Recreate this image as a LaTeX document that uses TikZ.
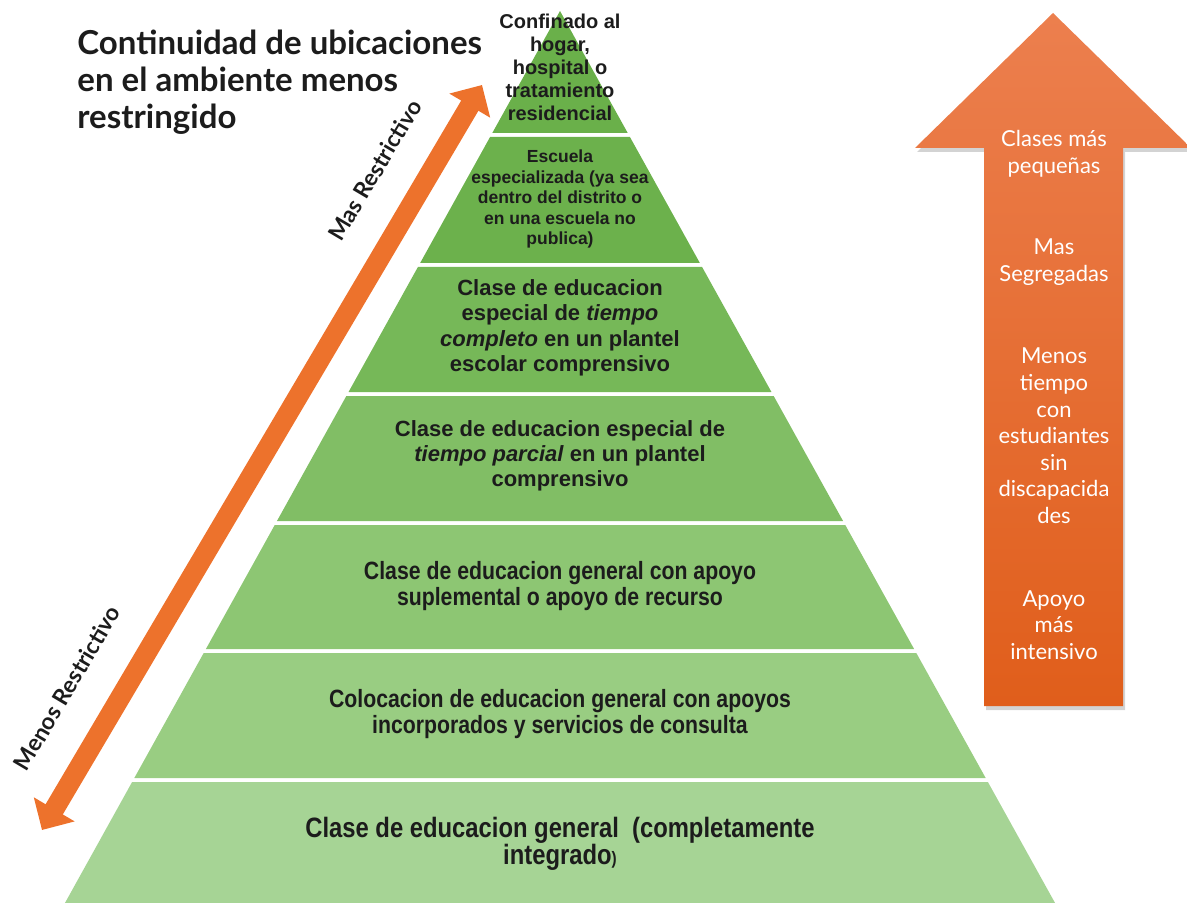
\documentclass[tikz,border=0pt]{standalone}
\usepackage{fontspec}
\setmainfont{Liberation Sans}
\newfontfamily\gillfont{Lato}
\newfontfamily\narrowfont[FakeStretch=0.85]{Liberation Sans}
\usetikzlibrary{arrows.meta,
                shadows,
                positioning}
\definecolor{tierA}{RGB}{106,176,74}
\definecolor{tierB}{RGB}{108,177,76}
\definecolor{tierC}{RGB}{118,184,88}
\definecolor{tierD}{RGB}{129,190,101}
\definecolor{tierE}{RGB}{141,198,115}
\definecolor{tierF}{RGB}{153,205,130}
\definecolor{tierG}{RGB}{166,212,149}
\definecolor{inkgray}{RGB}{28,28,28}
\definecolor{arroworange}{RGB}{237,114,44}
\definecolor{sidetop}{RGB}{236,127,78}
\definecolor{sidebottom}{RGB}{224,94,27}
\tikzset{tier-text/.style =
   {align=center,
    text=inkgray,
    inner sep=0pt}}
\tikzset{side-text/.style =
   {align=center,
    text=white,
    inner sep=0pt,
    font=\gillfont\fontsize{11}{13.3}\selectfont}}
\tikzset{restrict-label/.style =
   {rotate=59.4,
    text=inkgray,
    font=\gillfont\bfseries\fontsize{11.5}{13}\selectfont}}
\tikzset{arrow/.style =
   {draw=arroworange,
    line width=10pt,
    {Triangle[length=12pt,width=23pt]}-{Triangle[length=12pt,width=23pt]}}}

\begin{document}
\begin{tikzpicture}[x=0.5pt, y=-0.5pt]

    \useasboundingbox (0,0) rectangle (1187,903);

    % pyramid
    \fill [tierA] (560,11) -- ({560+0.555*122},133) -- ({560-0.555*122},133) -- cycle;
    \foreach \top/\bot/\col in {137/263/tierB,
                                267/392/tierC,
                                396/521/tierD,
                                525/649/tierE,
                                653/778/tierF,
                                782/903/tierG}
        \fill [\col] ({560-0.555*(\top-11)},\top) -- ({560+0.555*(\top-11)},\top)
                  -- ({560+0.555*(\bot-11)},\bot) -- ({560-0.555*(\bot-11)},\bot) -- cycle;

    \node [tier-text, font=\bfseries\fontsize{10}{11.5}\selectfont]
        (tier0) at (560,67) {Confinado al\\hogar,\\hospital o\\tratamiento\\residencial};
    \node [tier-text, font=\bfseries\fontsize{8.75}{10.25}\selectfont]
        (tier1) at (560,199) {Escuela\\especializada (ya sea\\dentro del distrito o\\en una escuela no\\publica)};
    \node [tier-text, font=\bfseries\fontsize{11}{12.75}\selectfont]
        (tier2) at (560,328) {Clase de educacion\\especial de \textit{tiempo}\\\textit{completo} en un plantel\\escolar comprensivo};
    \node [tier-text, font=\bfseries\fontsize{11}{12.5}\selectfont]
        (tier3) at (560,456) {Clase de educacion especial de\\\textit{tiempo parcial} en un plantel\\comprensivo};
    \node [tier-text, font=\narrowfont\bfseries\fontsize{12.5}{12.75}\selectfont]
        (tier4) at (560,586) {Clase de educacion general con apoyo\\suplemental o apoyo de recurso};
    \node [tier-text, font=\narrowfont\bfseries\fontsize{12.5}{12.75}\selectfont]
        (tier5) at (560,714) {Colocacion de educacion general con apoyos\\incorporados y servicios de consulta};
    \node [tier-text, font=\narrowfont\bfseries\fontsize{14}{13.5}\selectfont]
        (tier6) at (560,844) {Clase de educacion general\ \ (completamente\\integrado{\fontsize{9}{9}\selectfont)}};

    % title
    \node [anchor=north west, align=left, inner sep=0pt, text=inkgray,
           font=\gillfont\bfseries\fontsize{16.5}{18.3}\selectfont]
        (title) at (77,30) {Continuidad de ubicaciones\\en el ambiente menos\\restringido};

    % double arrow along the pyramid
    \coordinate (lowtip) at (42,830);
    \coordinate (hightip) at (482,85);
    \draw [arrow] (lowtip) -- (hightip);
    \node [restrict-label] (mas) at (375,170) {Mas Restrictivo};
    \node [restrict-label] (menos) at (67,688) {Menos Restrictivo};

    % block arrow on the right
    \path [top color=sidetop, bottom color=sidebottom,
           drop shadow={shadow xshift=1pt, shadow yshift=-2pt, opacity=0.35}]
        (1053,13) -- (1191,148) -- (1123,148) -- (1123,706)
        -- (984,706) -- (984,148) -- (915,148) -- cycle;

    \node [side-text] (side0) at (1054,154) {Clases más\\pequeñas};
    \node [side-text] (side1) at (1054,262) {Mas\\Segregadas};
    \node [side-text] (side2) at (1054,436) {Menos\\tiempo\\con\\estudiantes\\sin\\discapacida\\des};
    \node [side-text] (side3) at (1054,625) {Apoyo\\más\\intensivo};

\end{tikzpicture}
\end{document}
